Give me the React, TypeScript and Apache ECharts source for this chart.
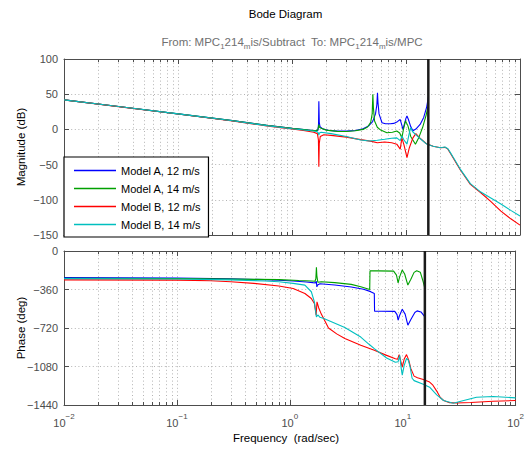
import React, { useEffect, useRef } from 'react';
import * as echarts from 'echarts';

const FONT = '"Liberation Sans", Arial, Helvetica, sans-serif';

const seriesNames = ['Model A, 12 m/s', 'Model A, 14 m/s', 'Model B, 12 m/s', 'Model B, 14 m/s'];
const seriesColors = ['#0000ff', '#00a000', '#ff0000', '#00bfbf'];

// [frequency (rad/s), magnitude (dB)]
const magA12 = [
  [0.01, 42], [0.03, 32.5], [0.1, 22], [0.3, 12.5], [0.6, 5.8], [1, 1.5], [1.4, -1], [1.62, -2], [1.69, -1],
  [1.71, 8], [1.72, 40], [1.735, 10], [1.76, 4], [1.85, 1], [2.1, -1.5], [2.5, -2.5], [3, -2.5], [3.6, -1.5],
  [4.2, 1], [4.7, 5], [5.1, 11], [5.4, 22], [5.55, 35], [5.62, 52], [5.68, 38], [5.8, 22], [6.16, 9.5],
  [6.6, 8], [7.3, 8], [7.8, 8.5], [8.4, 11], [8.9, 14], [9.15, 7], [9.4, 0], [9.7, 8], [10, 16], [10.2, 19],
  [10.5, 14], [11, 4], [11.5, -2], [12.2, 0.5], [13.3, 7], [14.3, 17], [15.2, 32], [15.7, 46],
];
const magA14 = [
  [0.01, 42], [0.03, 32.5], [0.1, 22], [0.3, 12.5], [0.6, 5.8], [1, 1.5], [1.4, -1], [1.62, -2], [1.68, -1],
  [1.71, 4], [1.725, 7], [1.74, 3], [1.8, 1.5], [2.0, -1], [2.5, -2.8], [3, -3], [3.6, -2], [4.2, 0],
  [4.6, 3.5], [4.9, 10], [5.05, 22], [5.12, 50], [5.18, 30], [5.3, 12], [5.6, 3], [6.0, -1], [6.8, -4.7],
  [7.6, -4], [8.3, -2.4], [8.8, -5], [9.2, -12], [9.5, 0], [9.9, 12], [10.4, 5], [11, -10], [12.1, -21],
  [13, -11], [14, 3], [15, 20], [15.7, 35],
];
const magB12 = [
  [0.01, 42], [0.03, 32.3], [0.1, 21.8], [0.3, 12], [0.6, 5], [0.8, 2.5], [1, 0.5], [1.3, -2], [1.55, -4],
  [1.67, -6], [1.705, -15], [1.72, -53], [1.735, -20], [1.77, -10], [1.9, -7.5], [2.2, -8.5], [3, -11],
  [4, -14.5], [5, -17], [5.6, -19], [6.5, -18], [7.5, -19], [8.3, -21], [8.9, -28], [9.2, -12], [9.6, -22],
  [10.2, -40], [10.7, -26], [11.5, -12], [12.2, -6], [13.2, -12], [15, -20], [17.3, -24], [20, -26],
  [22, -25.5], [23.3, -28], [24.5, -34], [26.5, -43], [29.8, -57], [36.7, -78], [45.3, -90], [55, -102],
  [68, -116], [83, -127], [100, -136],
];
const magB14 = [
  [0.01, 42], [0.03, 32.5], [0.1, 22], [0.3, 12.3], [0.6, 5.3], [1, 1], [1.4, -1.5], [1.65, -3], [1.7, -5],
  [1.72, -8], [1.74, -5], [1.8, -4], [2.2, -6], [3, -10], [4, -15], [4.8, -16.5], [5.6, -15.5], [6.5, -14],
  [7.5, -12.5], [8.3, -12], [8.9, -16], [9.2, -9.5], [9.6, -15], [10.2, -21], [10.7, -5], [11, 2.4],
  [11.4, -3], [12.1, -7], [13.5, -14], [15.2, -21], [17.3, -24], [20, -26], [22, -25], [23.3, -27.5],
  [24.5, -33], [26.5, -42], [29.8, -56], [36.7, -77], [45.3, -89], [55, -97], [68, -106], [83, -115],
  [100, -123],
];

// [frequency (rad/s), phase (deg)]
const phaseA12 = [
  [0.01, -248], [0.1, -252], [0.3, -260], [0.6, -268], [0.8, -274], [1.07, -280], [1.4, -290], [1.6, -296],
  [1.69, -298], [1.71, -282], [1.72, -292], [1.735, -335], [1.76, -318], [1.85, -306], [2.5, -318],
  [3.5, -336], [4.5, -358], [5.2, -380], [5.6, -397], [5.63, -563], [6.5, -563], [8.5, -565], [8.9, -595],
  [9.1, -647], [9.4, -600], [9.9, -544], [10.5, -590], [11.1, -694], [11.8, -640], [12.8, -575],
  [13.4, -560], [14.5, -570], [15.7, -616],
];
const phaseA14 = [
  [0.01, -256], [0.1, -258], [0.5, -265], [0.8, -268], [1.2, -276], [1.55, -280], [1.67, -283], [1.7, -260],
  [1.72, -153], [1.735, -230], [1.77, -292], [1.9, -288], [2.5, -296], [3.5, -312], [4.25, -335], [5.1, -360],
  [5.13, -185], [6, -186], [8.3, -188], [8.8, -225], [9.1, -297], [9.4, -240], [9.9, -178], [10.4, -215],
  [11.1, -319], [11.8, -265], [12.6, -200], [13.3, -185], [14.3, -198], [15.2, -290], [15.7, -350],
];
const phaseB12 = [
  [0.01, -270], [0.1, -272], [0.2, -278], [0.3, -288], [0.48, -303], [0.8, -328], [1.07, -350], [1.36, -397],
  [1.55, -444], [1.65, -491], [1.71, -600], [1.74, -475], [1.8, -530], [1.9, -590], [2.2, -720], [2.6, -775],
  [3.07, -819], [4.25, -882], [5.6, -929], [7.2, -976], [8.6, -1007], [9.0, -1012], [9.3, -969], [9.6, -1030],
  [9.9, -1085], [10.3, -1010], [10.8, -969], [11.3, -1020], [11.8, -1100], [12.6, -1170], [13.5, -1185],
  [15.2, -1202], [17.3, -1226], [18.5, -1255], [20, -1310], [21.5, -1370], [23, -1398], [26, -1418],
  [30, -1422], [40, -1416], [63, -1405], [100, -1398],
];
const phaseB14 = [
  [0.01, -258], [0.1, -262], [0.3, -270], [0.6, -280], [0.8, -288], [1.07, -303], [1.36, -319], [1.55, -381],
  [1.65, -475], [1.72, -616], [1.77, -598], [1.85, -620], [2.0, -632], [2.2, -650], [3.07, -715], [4.25, -805],
  [5.0, -870], [5.6, -913], [7.2, -1000], [8.6, -1040], [9.1, -1035], [9.4, -976], [9.7, -1100], [9.9, -1160],
  [10.3, -1070], [10.8, -1005], [11.2, -1020], [11.6, -1080], [12.1, -1190], [12.6, -1212], [15.2, -1245],
  [17.3, -1273], [20, -1345], [23, -1398], [28, -1423], [34, -1400], [45, -1367], [63, -1360], [100, -1373],
];

const magSeries = [magA12, magA14, magB12, magB14];
const phaseSeries = [phaseA12, phaseA14, phaseB12, phaseB14];

const nyquistFreq = 15.7;
const freqDecades = [-2, -1, 0, 1, 2];
const magRange = { min: -150, max: 100, interval: 50 };
const phaseRange = { min: -1440, max: 0, interval: 360 };

const AX = '#4d4d4d';
const GRID = '#b4b4b4';
const DOTS = [1, 2.6];

const minus = (v: number) => (v < 0 ? '\u2212' + -v : String(v));
const toLog = (pts: number[][]) => pts.map(([f, v]) => [Math.log10(f), v]);

function minorPositions() {
  const out: number[] = [];
  for (let i = 0; i < freqDecades.length - 1; i++) {
    for (let k = 2; k <= 9; k++) out.push(Math.log10(k * Math.pow(10, freqDecades[i])));
  }
  return out;
}

function buildOption() {
  const xMin = freqDecades[0];
  const xMax = freqDecades[freqDecades.length - 1];
  const xBase: any = {
    type: 'value', min: xMin, max: xMax, interval: 1,
    axisLine: { show: true, onZero: false, lineStyle: { color: AX, width: 1 } },
    axisTick: { show: true, inside: true, length: 5, lineStyle: { color: AX } },
    splitLine: { show: false },
    axisLabel: { show: false },
  };
  const xLabel = {
    show: true, margin: 7,
    formatter: (v: number) => `{b|10}{e|${minus(v)}}`,
    rich: {
      b: { fontSize: 11, fontFamily: FONT, color: AX },
      e: { fontSize: 8, fontFamily: FONT, color: AX, padding: [0, 0, 13, 0] },
    },
  };
  const splitDots = { show: true, lineStyle: { color: GRID, width: 1, type: DOTS } };
  const yBase = (r: any, gridIndex: number, pos: string, labels: boolean) => ({
    type: 'value', gridIndex, position: pos, min: r.min, max: r.max, interval: r.interval,
    axisLine: { show: true, onZero: false, lineStyle: { color: AX, width: 1 } },
    axisTick: { show: true, inside: true, length: 5, lineStyle: { color: AX } },
    splitLine: labels ? splitDots : { show: false },
    axisLabel: labels
      ? { show: true, margin: 6, fontSize: 11, fontFamily: FONT, color: AX, formatter: minus }
      : { show: false },
  });

  const minors = minorPositions().map((v) => [v, 0]);
  const minorSeries = (idx: number, r: any) => ({
    type: 'custom', xAxisIndex: idx, yAxisIndex: idx, silent: true, z: 1,
    data: minors,
    renderItem: (params: any, api: any) => {
      const v = api.value(0);
      const top = api.coord([v, r.max]);
      const bot = api.coord([v, r.min]);
      const x = Math.round(top[0]) + 0.5;
      return {
        type: 'group',
        children: [
          { type: 'line', shape: { x1: x, y1: top[1], x2: x, y2: bot[1] }, style: { stroke: GRID, lineWidth: 1, lineDash: DOTS } },
          { type: 'line', shape: { x1: x, y1: bot[1], x2: x, y2: bot[1] - 3 }, style: { stroke: AX, lineWidth: 1 } },
          { type: 'line', shape: { x1: x, y1: top[1], x2: x, y2: top[1] + 3 }, style: { stroke: AX, lineWidth: 1 } },
        ],
      };
    },
  });

  const nyqX = Math.log10(nyquistFreq);
  const nyqSeries = (idx: number, r: any) => ({
    type: 'line', xAxisIndex: idx, yAxisIndex: idx, silent: true, z: 5,
    data: [[nyqX, r.min], [nyqX, r.max]],
    symbol: 'none', showSymbol: false,
    lineStyle: { color: '#1a1a1a', width: 2.5 },
  });

  const lineSeries: any[] = [];
  seriesNames.forEach((name, i) => {
    lineSeries.push({
      type: 'line', name, xAxisIndex: 0, yAxisIndex: 0, data: toLog(magSeries[i]),
      symbol: 'none', showSymbol: false, color: seriesColors[i], z: 3,
      lineStyle: { color: seriesColors[i], width: 1.1 },
    });
  });
  seriesNames.forEach((name, i) => {
    lineSeries.push({
      type: 'line', name, xAxisIndex: 2, yAxisIndex: 2, data: toLog(phaseSeries[i]),
      symbol: 'none', showSymbol: false, color: seriesColors[i], z: 3,
      lineStyle: { color: seriesColors[i], width: 1.1 },
    });
  });

  const txt = (x: number, y: number, text: string, extra: any = {}, rotation = 0) => ({
    type: 'text', x, y, rotation, silent: true,
    style: {
      text, fontSize: 11.5, fontFamily: FONT, fill: '#000',
      align: 'center', verticalAlign: 'middle', textAlign: 'center', textVerticalAlign: 'middle',
      ...extra,
    },
  });

  return {
    animation: false,
    backgroundColor: '#fff',
    grid: [
      { left: 64, right: 7, top: 59, height: 176 },
      { left: 64, right: 7, top: 251, height: 154 },
    ],
    xAxis: [
      { ...xBase, gridIndex: 0, position: 'bottom', splitLine: splitDots },
      { ...xBase, gridIndex: 0, position: 'top' },
      { ...xBase, gridIndex: 1, position: 'bottom', splitLine: splitDots, axisLabel: xLabel },
      { ...xBase, gridIndex: 1, position: 'top' },
    ],
    yAxis: [
      yBase(magRange, 0, 'left', true),
      yBase(magRange, 0, 'right', false),
      yBase(phaseRange, 1, 'left', true),
      yBase(phaseRange, 1, 'right', false),
    ],
    legend: {
      data: seriesNames, orient: 'vertical', left: 64, top: 157,
      padding: [7, 8, 6, 10], itemGap: 5, itemWidth: 42, itemHeight: 1.5, icon: 'rect',
      backgroundColor: '#fff', borderColor: '#000', borderWidth: 1.2, borderRadius: 0,
      textStyle: { fontSize: 11, fontFamily: FONT, color: '#000', lineHeight: 13 },
      selectedMode: false, z: 10,
    },
    graphic: [
      txt(285.5, 14, 'Bode Diagram'),
      txt(292, 42, 'From: MPC{s|1}214{s|m}is/Subtract  To: MPC{s|1}214{s|m}is/MPC', {
        fill: '#707070',
        rich: { s: { fontSize: 8, fontFamily: FONT, fill: '#707070', color: '#707070', padding: [9, 0, 0, 0] } },
      }),
      txt(21, 147, 'Magnitude (dB)', {}, Math.PI / 2),
      txt(21, 328, 'Phase (deg)', {}, Math.PI / 2),
      txt(286, 438, 'Frequency  (rad/sec)'),
    ],
    series: [
      minorSeries(0, magRange), minorSeries(2, phaseRange),
      ...lineSeries,
      nyqSeries(0, magRange), nyqSeries(2, phaseRange),
    ],
  };
}

export default function App() {
  const ref = useRef<HTMLDivElement>(null);
  useEffect(() => {
    if (!ref.current) return;
    const chart = echarts.init(ref.current, null, { renderer: 'svg' });
    chart.setOption(buildOption() as any);
    return () => chart.dispose();
  }, []);
  return (
    <div
      ref={ref}
      style={{ position: 'fixed', left: 0, top: 0, width: 527, height: 449, background: '#fff' }}
    />
  );
}
